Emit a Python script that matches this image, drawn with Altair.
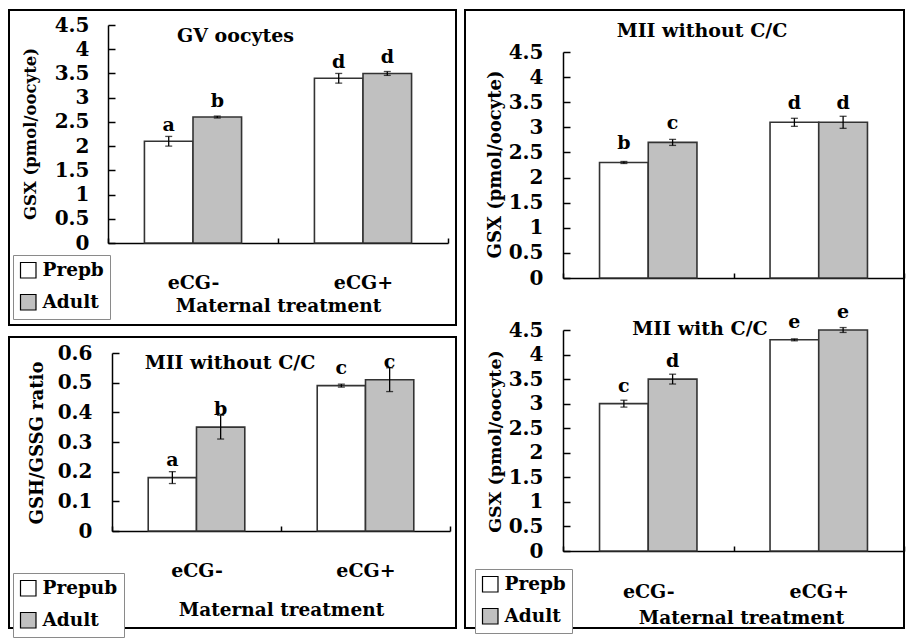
import altair as alt
import pandas as pd

FONT = "DejaVu Serif"

categories = ["eCG-", "eCG+"]
groups_prepb = ["Prepb", "Adult"]
groups_prepub = ["Prepub", "Adult"]

# Panel: GV oocytes, GSX (pmol/oocyte)
gv_prepb = [2.1, 3.4]
gv_prepb_err = [0.1, 0.1]
gv_prepb_sig = ["a", "d"]
gv_adult = [2.6, 3.5]
gv_adult_err = [0.02, 0.04]
gv_adult_sig = ["b", "d"]

# Panel: MII without C/C, GSH/GSSG ratio
ratio_prepub = [0.18, 0.49]
ratio_prepub_err = [0.02, 0.005]
ratio_prepub_sig = ["a", "c"]
ratio_adult = [0.35, 0.51]
ratio_adult_err = [0.04, 0.04]
ratio_adult_sig = ["b", "c"]

# Panel: MII without C/C, GSX
wo_prepb = [2.3, 3.1]
wo_prepb_err = [0.02, 0.08]
wo_prepb_sig = ["b", "d"]
wo_adult = [2.7, 3.1]
wo_adult_err = [0.06, 0.12]
wo_adult_sig = ["c", "d"]

# Panel: MII with C/C, GSX
w_prepb = [3.0, 4.3]
w_prepb_err = [0.07, 0.02]
w_prepb_sig = ["c", "e"]
w_adult = [3.5, 4.5]
w_adult_err = [0.1, 0.05]
w_adult_sig = ["d", "e"]

gsx_ticks = [0, 0.5, 1, 1.5, 2, 2.5, 3, 3.5, 4, 4.5]
ratio_ticks = [0, 0.1, 0.2, 0.3, 0.4, 0.5, 0.6]


def table(groups, v1, e1, s1, v2, e2, s2):
    rows = []
    for grp, vals, errs, sigs in [(groups[0], v1, e1, s1), (groups[1], v2, e2, s2)]:
        for c, v, e, s in zip(categories, vals, errs, sigs):
            rows.append({"cat": c, "grp": grp, "value": v, "lo": v - e, "hi": v + e, "sig": s})
    return pd.DataFrame(rows)


def panel(df, groups, ymax, yticks, xr, yr, W, ygap, ytitle, ytitle_xy, ytitle_size,
          xlab_gap, xtitle, xtitle_xy, letter_dy, legend_xy, title, title_dxy):
    xs = alt.Scale(domain=categories, range=xr, paddingInner=0, paddingOuter=0)
    ys = alt.Scale(domain=[0, ymax], range=yr, nice=False, zero=True)
    os_ = alt.Scale(domain=groups, paddingInner=0, paddingOuter=0.75)

    yaxis = alt.Axis(orient="right", offset=xr[0] - W, values=yticks, format="~g",
                     tickSize=7, tickWidth=1.5, domainWidth=1.5,
                     labelAlign="right", labelBaseline="middle",
                     labelPadding=-(7 + ygap), labelOverlap=False, labelFontSize=20,
                     title=ytitle, titleAngle=270, titleX=ytitle_xy[0] - xr[0],
                     titleY=ytitle_xy[1], titleAlign="center", titleBaseline="middle",
                     titleFontSize=ytitle_size, grid=False)
    xkw = dict(orient="top", offset=-yr[0], tickBand="extent", tickSize=5, tickWidth=1.5,
               domainWidth=1.5, grid=False, labelAngle=0)
    if xlab_gap is not None:
        xkw.update(labels=True, labelPadding=-(5 + xlab_gap), labelBaseline="alphabetic",
                   labelAlign="center", labelFontSize=19)
    else:
        xkw.update(labels=False)
    if xtitle:
        xkw.update(title=xtitle, titleX=xtitle_xy[0], titleY=xtitle_xy[1],
                   titleBaseline="alphabetic", titleAlign="center", titleFontSize=18.5)
    else:
        xkw.update(title=None)
    xaxis = alt.Axis(**xkw)

    if legend_xy is not None:
        leg = alt.Legend(orient="none", legendX=legend_xy[0], legendY=legend_xy[1], title=None,
                         symbolType="square", symbolSize=240, symbolStrokeColor="black",
                         symbolStrokeWidth=1.2, labelFont=FONT, labelFontWeight="bold",
                         labelFontSize=18.5, labelColor="black", labelOffset=5,
                         strokeColor="#8a8a8a", fillColor="white", padding=6, rowPadding=11)
    else:
        leg = None

    X = alt.X("cat:N", scale=xs, axis=xaxis, sort=categories)
    O = alt.XOffset("grp:N", scale=os_, sort=groups)
    base = alt.Chart(df)
    bars = base.mark_bar(stroke="#333333", strokeWidth=1.6).encode(
        x=X, xOffset=O,
        y=alt.Y("value:Q", scale=ys, axis=yaxis),
        color=alt.Color("grp:N", scale=alt.Scale(domain=groups, range=["#ffffff", "#c0c0c0"]),
                        legend=leg, sort=groups),
    )
    rules = base.mark_rule(color="black", strokeWidth=1.3).encode(
        x=X, xOffset=O, y=alt.Y("lo:Q", scale=ys, axis=yaxis), y2="hi:Q")
    cap_lo = base.mark_tick(color="black", size=7, thickness=1.3, orient="horizontal").encode(
        x=X, xOffset=O, y=alt.Y("lo:Q", scale=ys, axis=yaxis))
    cap_hi = base.mark_tick(color="black", size=7, thickness=1.3, orient="horizontal").encode(
        x=X, xOffset=O, y=alt.Y("hi:Q", scale=ys, axis=yaxis))
    letters = base.mark_text(font=FONT, fontWeight="bold", fontSize=19, baseline="alphabetic",
                             dy=letter_dy, color="black").encode(
        x=X, xOffset=O, y=alt.Y("value:Q", scale=ys, axis=yaxis), text="sig:N")
    ttl = alt.Chart(pd.DataFrame({"t": [title]})).mark_text(
        font=FONT, fontWeight="bold", fontSize=19, baseline="alphabetic", align="center",
        dx=title_dxy[0], dy=title_dxy[1], color="black").encode(
        x=alt.XDatum(categories[0], type="nominal", scale=xs, axis=xaxis),
        y=alt.YDatum(ymax, type="quantitative", scale=ys, axis=yaxis),
        text="t:N")
    return alt.layer(bars, rules, cap_lo, cap_hi, letters, ttl)


df_a = table(groups_prepb, gv_prepb, gv_prepb_err, gv_prepb_sig, gv_adult, gv_adult_err, gv_adult_sig)
df_b = table(groups_prepub, ratio_prepub, ratio_prepub_err, ratio_prepub_sig,
             ratio_adult, ratio_adult_err, ratio_adult_sig)
df_c = table(groups_prepb, wo_prepb, wo_prepb_err, wo_prepb_sig, wo_adult, wo_adult_err, wo_adult_sig)
df_d = table(groups_prepb, w_prepb, w_prepb_err, w_prepb_sig, w_adult, w_adult_err, w_adult_sig)

WL, HA, HB = 447, 315, 291
WR, HR = 439, 618

pa = panel(df_a, groups_prepb, 4.5, gsx_ticks, [99, 439], [233, 15], WL, 19,
           "GSX (pmol/oocyte)", (21, 123.5), 16.5, 45.5, "Maternal treatment", (269, 68.7),
           -10, (4, 245), "GV oocytes", (42.5, 16.7)).properties(width=WL, height=HA)

pb = panel(df_b, groups_prepub, 0.6, ratio_ticks, [103, 441], [194, 16], WL, 20,
           "GSH/GSSG ratio", (28, 105.5), 18, 45.7, "Maternal treatment", (272, 84),
           -12, (4, 236), "MII without C/C", (33.5, 16)).properties(width=WL, height=HB)

pc = panel(df_c, groups_prepb, 4.5, gsx_ticks, [98, 439], [268, 42], WR, 20,
           "GSX (pmol/oocyte)", (30, 154), 18, None, None, None, -13, None,
           "MII without C/C", (53.75, -15))
pdd = panel(df_d, groups_prepb, 4.5, gsx_ticks, [98, 439], [541, 320], WR, 20,
            "GSX (pmol/oocyte)", (30, 431), 17.5, 46, "Maternal treatment", (276, 72),
            -12, (10, 559), "MII with C/C", (51.75, 5))

right = alt.layer(pc, pdd).resolve_scale(
    x="independent", y="independent", xOffset="independent", color="independent"
).properties(width=WR, height=HR)

left = alt.vconcat(pa, pb, spacing=10).resolve_scale(color="independent", xOffset="independent")

chart = alt.hconcat(left, right, spacing=7).resolve_scale(
    color="independent", xOffset="independent"
).properties(
    padding={"left": 0, "top": 1, "right": 0, "bottom": 0}
).configure_view(
    stroke="black", strokeWidth=2
).configure_axis(
    labelFont=FONT, labelFontWeight="bold", labelColor="black",
    titleFont=FONT, titleFontWeight="bold", titleColor="black",
    domainColor="black", tickColor="black"
)

chart.save("out.html", embed_options={"renderer": "svg", "actions": False})
